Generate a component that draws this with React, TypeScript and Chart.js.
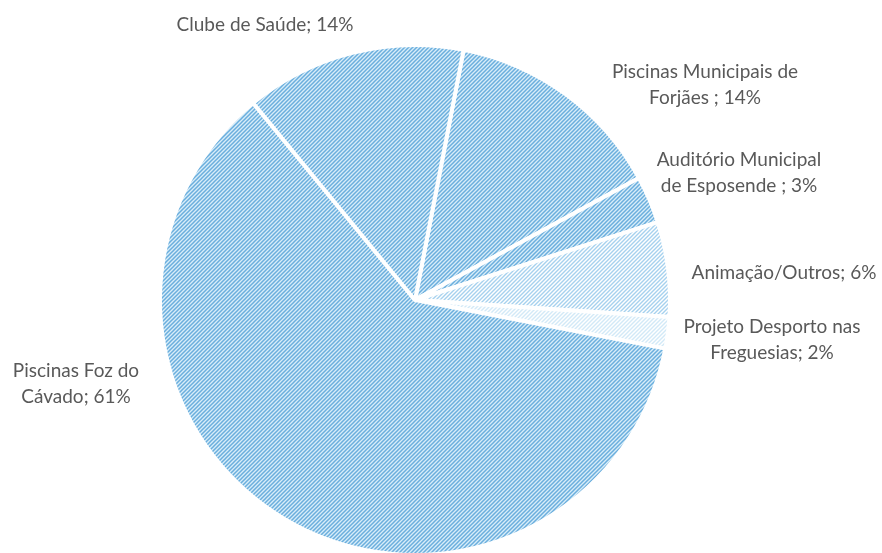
import React, { useEffect, useRef } from "react";
import { Chart, registerables } from "chart.js";

Chart.register(...registerables);

const categories = [
  "Piscinas Municipais de Forjães",
  "Auditório Municipal de Esposende",
  "Animação/Outros",
  "Projeto Desporto nas Freguesias",
  "Piscinas Foz do Cávado",
  "Clube de Saúde",
];
const values = [14, 3, 6, 2, 61, 14];
const labelLines = [
  ["Piscinas Municipais de", "Forjães ; 14%"],
  ["Auditório Municipal", "de Esposende ; 3%"],
  ["Animação/Outros; 6%"],
  ["Projeto Desporto nas", "Freguesias; 2%"],
  ["Piscinas Foz do", "Cávado; 61%"],
  ["Clube de Saúde; 14%"],
];
// label centres relative to pie centre (px)
const labelOffsets = [
  [290, -215],
  [324, -127],
  [369, -27],
  [357, 40],
  [-339, 84],
  [-150, -275],
];

function makePattern(bg: string, fg: string, lw: number) {
  const s = 4;
  const c = document.createElement("canvas");
  c.width = s;
  c.height = s;
  const g = c.getContext("2d")!;
  g.fillStyle = bg;
  g.fillRect(0, 0, s, s);
  g.strokeStyle = fg;
  g.lineWidth = lw;
  g.beginPath();
  g.moveTo(-1, s + 1);
  g.lineTo(s + 1, -1);
  g.moveTo(-1, 1);
  g.lineTo(1, -1);
  g.moveTo(s - 1, s + 1);
  g.lineTo(s + 1, s - 1);
  g.stroke();
  const ctx = document.createElement("canvas").getContext("2d")!;
  return ctx.createPattern(c, "repeat")!;
}

export default function App() {
  const ref = useRef<HTMLCanvasElement>(null);
  useEffect(() => {
    document.body.style.margin = "0";
    const main = makePattern("#d8edf9", "#6aaedd", 1.5);
    const light = makePattern("#ffffff", "#a6d1ee", 1.4);
    const lighter = makePattern("#ffffff", "#d2e9f7", 1.4);
    const fills = [main, main, light, lighter, main, main];

    const labelPlugin = {
      id: "outsideLabels",
      afterDraw(chart: any) {
        const meta = chart.getDatasetMeta(0);
        const arc = meta.data[0];
        const cx = arc.x;
        const cy = arc.y;
        const ctx = chart.ctx;
        ctx.save();
        ctx.font = "19px Lato, 'Open Sans', sans-serif";
        ctx.fillStyle = "#595959";
        ctx.textAlign = "center";
        ctx.textBaseline = "middle";
        labelLines.forEach((lines, i) => {
          const [dx, dy] = labelOffsets[i];
          const lh = 26;
          const y0 = cy + dy - ((lines.length - 1) * lh) / 2;
          lines.forEach((t, j) => ctx.fillText(t, cx + dx, y0 + j * lh));
        });
        ctx.restore();
      },
    };

    const chart = new Chart(ref.current!, {
      type: "pie",
      data: {
        labels: categories,
        datasets: [
          {
            data: values,
            backgroundColor: fills as any,
            borderColor: "#ffffff",
            borderWidth: 4,
          },
        ],
      },
      options: {
        responsive: false,
        animation: false,
        rotation: 11,
        layout: { padding: { left: 158, right: 210, top: 43, bottom: 43 } },
        plugins: {
          legend: { display: false },
          tooltip: { enabled: false },
        },
      },
      plugins: [labelPlugin],
    });
    return () => chart.destroy();
  }, []);
  return (
    <div style={{ width: 882, height: 553, overflow: "hidden", background: "#fff" }}>
      <canvas ref={ref} width={882} height={600} style={{ width: 882, height: 600 }} />
    </div>
  );
}
